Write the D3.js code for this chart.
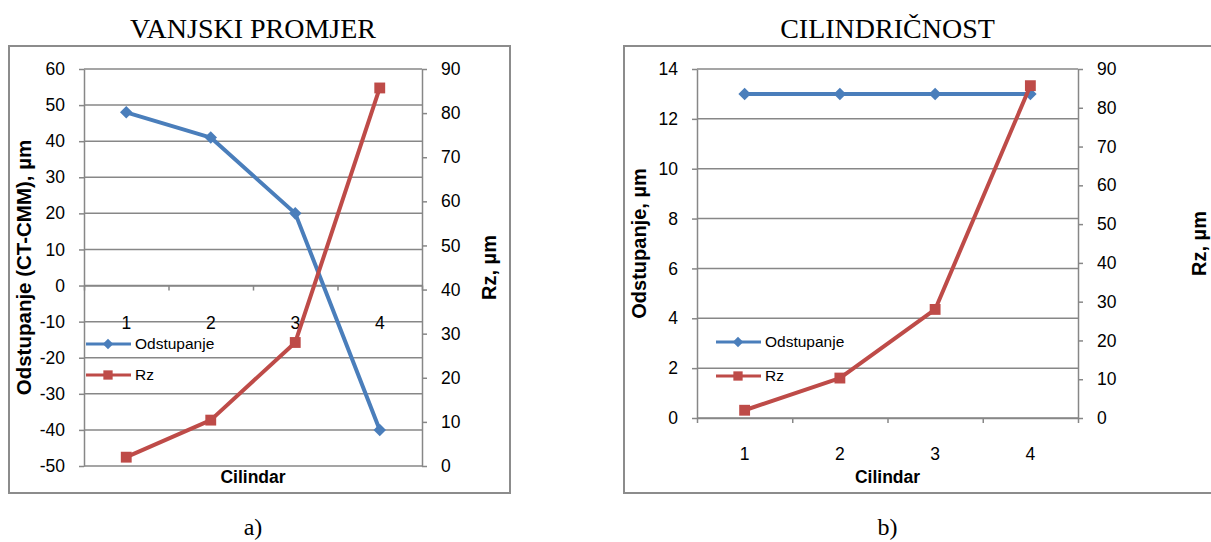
<!DOCTYPE html>
<html>
<head>
<meta charset="utf-8">
<script src="https://cdn.jsdelivr.net/npm/d3@7"></script>
<style>
  body { margin: 0; background: #fff; }
  svg { display: block; }
</style>
</head>
<body>
<svg></svg>
<script>
// podaci
const categories = ["1", "2", "3", "4"];
const odstupanjeA = [48, 41, 20, -40];
const rzA = [2, 10.4, 28, 85.7];
const odstupanjeB = [13, 13, 13, 13];
const rzB = [2, 10.3, 28, 85.7];
const leftTicksA = [-50, -40, -30, -20, -10, 0, 10, 20, 30, 40, 50, 60];
const leftTicksB = [0, 2, 4, 6, 8, 10, 12, 14];
const rzTicks = [0, 10, 20, 30, 40, 50, 60, 70, 80, 90];
const seriesNames = ["Odstupanje", "Rz"];

const width = 1211;
const height = 542;
const blue = "#4a7ebb";
const red = "#be4b48";
const grey = "#878787";
const sans = "'Liberation Sans', Arial, sans-serif";
const serif = "'Liberation Serif', 'Times New Roman', serif";

let svg = d3.select("svg")
    .attr("width", width)
    .attr("height", height);

function drawPanel(p) {
    let g = svg.append("g");
    // okvir
    g.append("rect").attr("x", p.frame[0]).attr("y", p.frame[1])
        .attr("width", p.frame[2]).attr("height", p.frame[3])
        .attr("fill", "none").attr("stroke", "#8c8c8c").attr("stroke-width", 2);

    // naslov i oznaka
    g.append("text").attr("x", (p.x0 + p.x1) / 2).attr("y", 38)
        .attr("text-anchor", "middle").style("font-family", serif).style("font-size", "28px")
        .text(p.title);
    g.append("text").attr("x", (p.x0 + p.x1) / 2).attr("y", 535)
        .attr("text-anchor", "middle").style("font-family", serif).style("font-size", "24px")
        .text(p.caption);

    const x = d3.scaleBand().domain(categories).range([p.x0, p.x1]);
    const xEdges = d3.scaleLinear().domain([0, categories.length]).range([p.x0, p.x1]);
    const yL = d3.scaleLinear().domain(d3.extent(p.leftTicks)).range([p.yBottom, p.yTop]);
    const yR = d3.scaleLinear().domain(d3.extent(rzTicks)).range([p.yBottom, p.yTop]);
    const cx = (d) => x(d) + x.bandwidth() / 2;

    // mreža
    g.append("g").selectAll("line").data(p.leftTicks).join("line")
        .attr("x1", p.x0).attr("x2", p.x1)
        .attr("y1", (d) => yL(d)).attr("y2", (d) => yL(d))
        .attr("stroke", grey).attr("stroke-width", 1.5);

    // lijeva os
    let axL = g.append("g").attr("transform", `translate(${p.x0},0)`)
        .call(d3.axisLeft(yL).tickValues(p.leftTicks).tickFormat(d => String(d))
            .tickSize(5).tickPadding(14).tickSizeOuter(0));
    // desna os
    let axR = g.append("g").attr("transform", `translate(${p.x1},0)`)
        .call(d3.axisRight(yR).tickValues(rzTicks).tickFormat(d => String(d))
            .tickSize(5).tickPadding(14).tickSizeOuter(0));
    [axL, axR].forEach(ax => {
        ax.select(".domain").attr("stroke", grey).attr("stroke-width", 1.5);
        ax.selectAll(".tick line").attr("stroke", grey).attr("stroke-width", 1.5);
        ax.selectAll(".tick text").style("font-family", sans).style("font-size", "17.5px").attr("fill", "#000");
    });

    // x os (crtice na granicama kategorija)
    let axX = g.append("g").attr("transform", `translate(0,${yL(p.xAt)})`)
        .call(d3.axisBottom(xEdges).ticks(categories.length).tickFormat("").tickSize(5).tickSizeOuter(0));
    axX.select(".domain").attr("stroke", grey).attr("stroke-width", 1.5);
    axX.selectAll(".tick line").attr("stroke", grey).attr("stroke-width", 1.5);

    // oznake kategorija
    g.append("g").attr("transform", `translate(0,${p.labelY})`)
        .call(d3.axisBottom(x).tickSize(0).tickPadding(0))
        .call(a => a.select(".domain").remove())
        .selectAll("text").style("font-family", sans).style("font-size", "17.5px").attr("fill", "#000")
        .attr("dy", "0.35em");

    // naslovi osi
    g.append("text").attr("x", (p.x0 + p.x1) / 2).attr("y", 483)
        .attr("text-anchor", "middle").style("font-family", sans).style("font-size", "17.5px")
        .style("font-weight", "bold").text("Cilindar");
    g.append("text").attr("transform", `translate(${p.leftTitleX},${(p.yTop + p.yBottom) / 2}) rotate(-90)`)
        .attr("text-anchor", "middle").attr("dy", "0.35em").style("font-family", sans)
        .style("font-size", p.leftTitleSize).style("font-weight", "bold").text(p.leftTitle);
    g.append("text").attr("transform", `translate(${p.rightTitleX},${(p.yTop + p.yBottom) / 2}) rotate(-90)`)
        .attr("text-anchor", "middle").attr("dy", "0.35em").style("font-family", sans)
        .style("font-size", "20px").style("font-weight", "bold").text("Rz, µm");

    const line = d3.line();
    const diamond = d3.symbol().type(d3.symbolDiamond2);
    const square = d3.symbol().type(d3.symbolSquare2);

    // Odstupanje
    g.append("path")
        .attr("d", line(p.odst.map((v, i) => [cx(categories[i]), yL(v)])))
        .attr("fill", "none").attr("stroke", blue).attr("stroke-width", 4).attr("stroke-linejoin", "round");
    g.append("g").selectAll("path").data(p.odst).join("path")
        .attr("d", diamond.size(100))
        .attr("transform", (d, i) => `translate(${cx(categories[i])},${yL(d)})`)
        .attr("fill", blue);

    // Rz
    g.append("path")
        .attr("d", line(p.rz.map((v, i) => [cx(categories[i]), yR(v)])))
        .attr("fill", "none").attr("stroke", red).attr("stroke-width", 4).attr("stroke-linejoin", "round");
    g.append("g").selectAll("rect").data(p.rz).join("path")
        .attr("d", square.size(150))
        .attr("transform", (d, i) => `translate(${cx(categories[i])},${yR(d)})`)
        .attr("fill", red);

    // legenda
    let leg = g.append("g");
    seriesNames.forEach((name, i) => {
        const ly = p.legend.y[i];
        const col = i == 0 ? blue : red;
        leg.append("line").attr("x1", p.legend.x).attr("x2", p.legend.x + 45)
            .attr("y1", ly).attr("y2", ly).attr("stroke", col).attr("stroke-width", 3);
        leg.append("path").attr("d", (i == 0 ? diamond.size(70) : square.size(110))())
            .attr("transform", `translate(${p.legend.x + 22},${ly})`).attr("fill", col);
        leg.append("text").attr("x", p.legend.x + 49).attr("y", ly).attr("dy", "0.35em")
            .style("font-family", sans).style("font-size", "15.5px").text(name);
    });
}

drawPanel({
    title: "VANJSKI PROMJER", caption: "a)",
    frame: [9, 46, 501, 447],
    x0: 84, x1: 422, yTop: 69, yBottom: 466,
    leftTicks: leftTicksA, xAt: 0, labelY: 323,
    odst: odstupanjeA, rz: rzA,
    leftTitle: "Odstupanje (CT-CMM), µm", leftTitleX: 24, leftTitleSize: "20.5px",
    rightTitleX: 489,
    legend: { x: 86, y: [344, 375] }
});

drawPanel({
    title: "CILINDRIČNOST", caption: "b)",
    frame: [624, 46, 640, 447],
    x0: 697, x1: 1078, yTop: 69, yBottom: 418,
    leftTicks: leftTicksB, xAt: 0, labelY: 454,
    odst: odstupanjeB, rz: rzB,
    leftTitle: "Odstupanje, µm", leftTitleX: 639, leftTitleSize: "20px",
    rightTitleX: 1199,
    legend: { x: 716, y: [342, 376] }
});
</script>
</body>
</html>
